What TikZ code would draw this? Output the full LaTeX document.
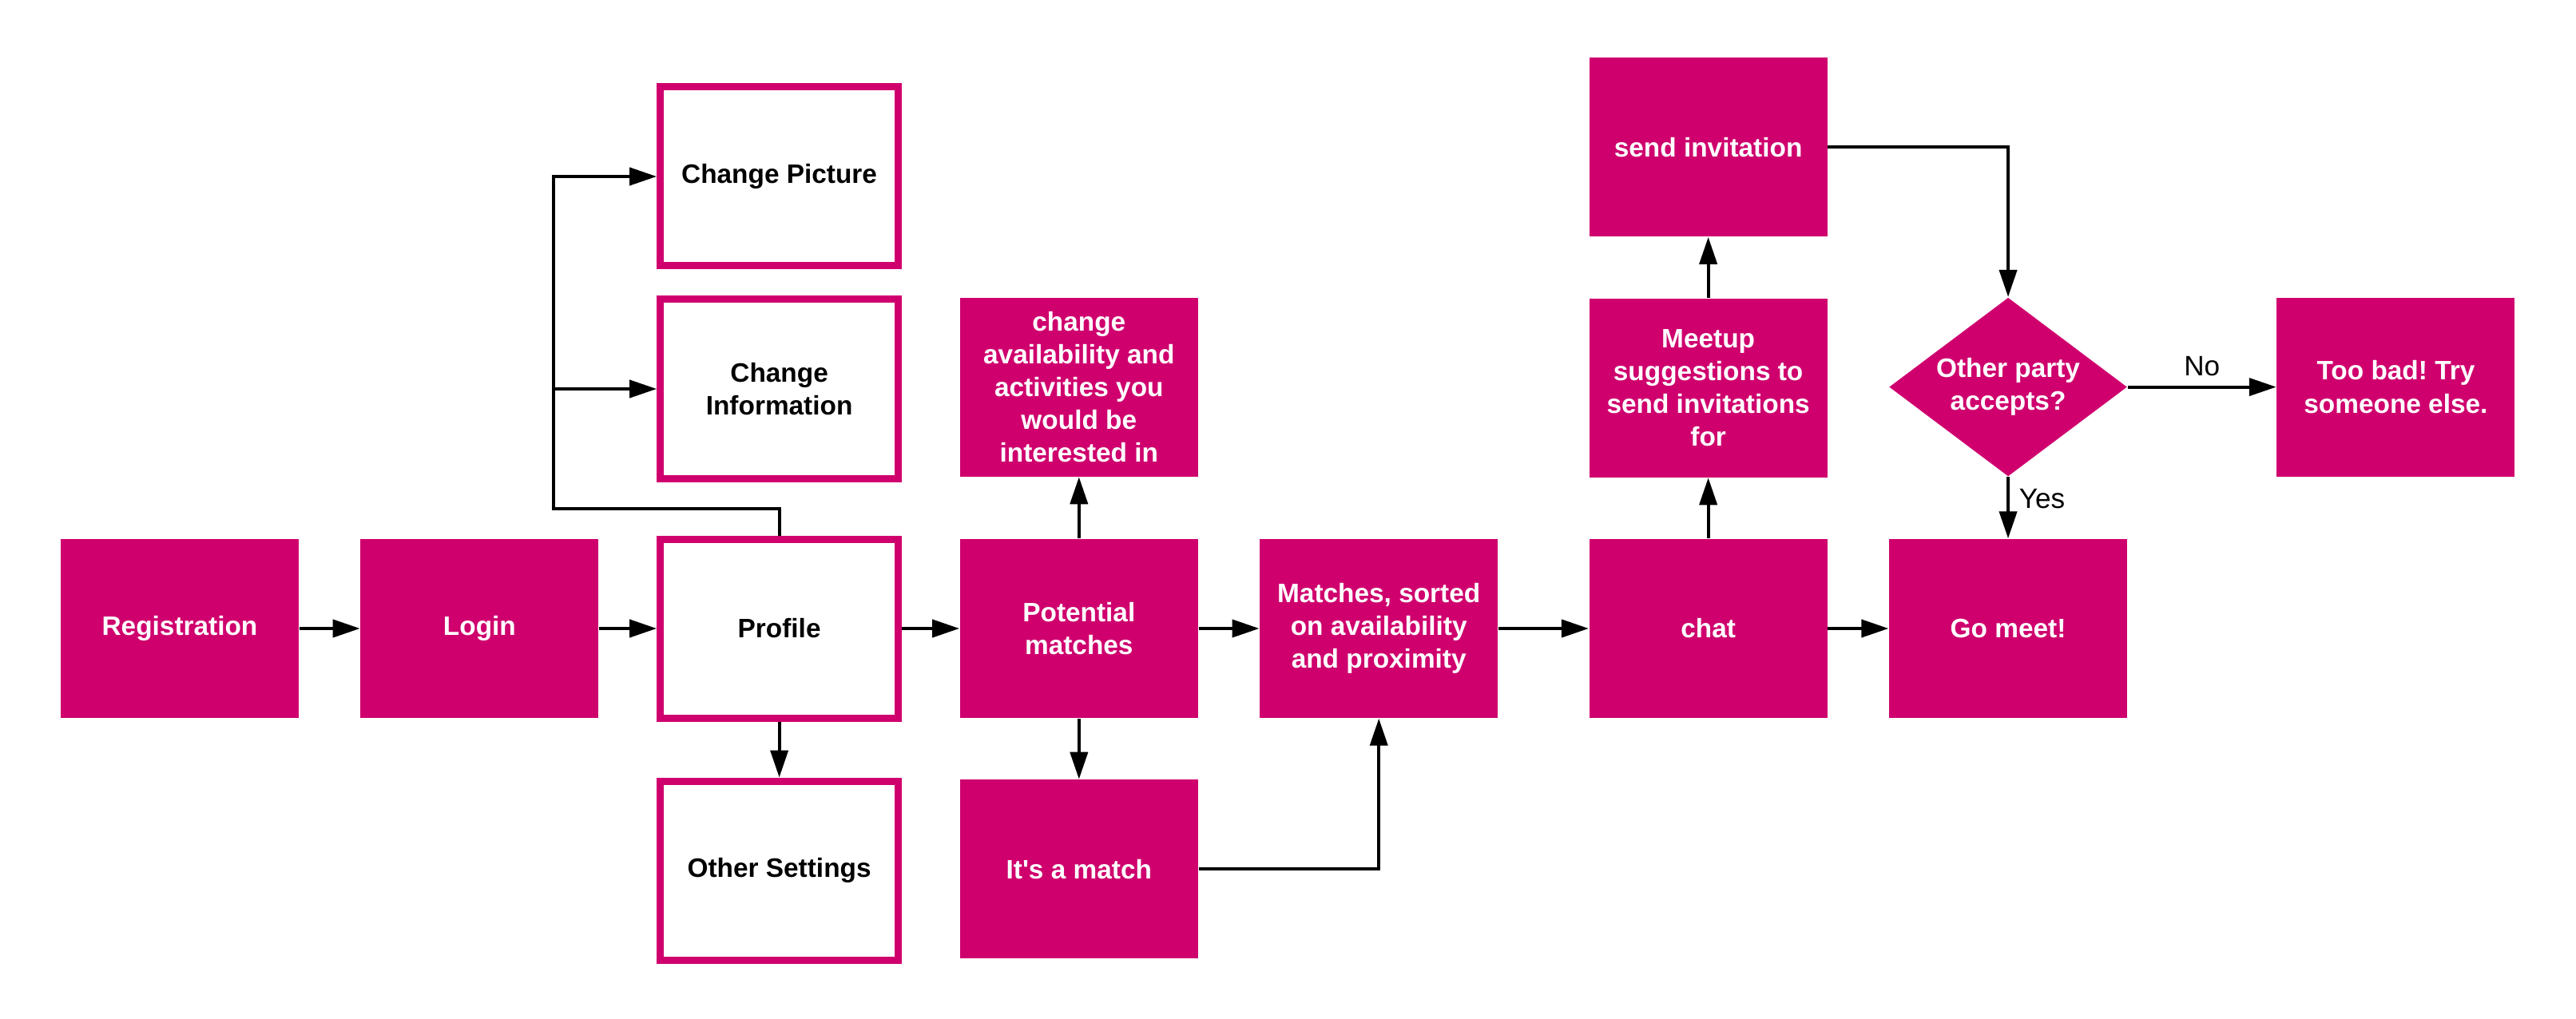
\documentclass[tikz,border=0pt]{standalone}
\usepackage{fontspec}
\setmainfont{Liberation Sans}[Ligatures=TeXOff]
\frenchspacing
\usetikzlibrary{positioning,shapes.geometric,arrows.meta}
\definecolor{berry}{RGB}{207,0,110}
\tikzset{
  boxtext/.style={align=center,font=\bfseries\fontsize{9.5}{11.7}\selectfont},
  filled/.style={rectangle,fill=berry,text=white,boxtext,minimum width=2.98cm,minimum height=2.24cm,inner sep=0pt},
  outlined/.style={rectangle,draw=berry,line width=0.09cm,text=black,boxtext,minimum width=2.98cm,minimum height=2.24cm,inner sep=0pt},
  decision/.style={diamond,fill=berry,text=white,boxtext,minimum width=2.98cm,minimum height=2.24cm,aspect=1.33,inner sep=0pt},
  link/.style={line width=0.04cm,-{Triangle[length=3.4mm,width=2.2mm]}}
}
\begin{document}
\begin{tikzpicture}
        \useasboundingbox (0,0) rectangle (32.25,12.75);
        \node(registration)[filled] at (2.25,4.88) {Registration};
        \node(login)[right=0.76cm of registration,filled]{Login};
        \node(profile)[right=0.72cm of login,outlined]{Profile};
        \node(chginfo)[above=0.67cm of profile,outlined]{Change\\Information};
        \node(chgpic)[above=0.33cm of chginfo,outlined]{Change Picture};
        \node(othersettings)[below=0.70cm of profile,outlined]{Other Settings};
        \node(potential)[right=0.72cm of profile,filled]{Potential\\matches};
        \node(availability)[above=0.77cm of potential,filled]{change\\availability and\\activities you\\would be\\interested in};
        \node(itsamatch)[below=0.76cm of potential,filled]{It's a match};
        \node(sorted)[right=0.76cm of potential,filled]{Matches, sorted\\on availability\\and proximity};
        \node(chat)[right=1.13cm of sorted,filled]{chat};
        \node(meetup)[above=0.76cm of chat,filled]{Meetup\\suggestions to\\send invitations\\for};
        \node(invite)[above=0.76cm of meetup,filled]{send invitation};
        \node(gomeet)[right=0.76cm of chat,filled]{Go meet!};
        \node(accepts)[above=0.77cm of gomeet,decision]{Other party\\accepts?};
        \node(toobad)[right=1.86cm of accepts,filled]{Too bad! Try\\someone else.};

        \draw[link] (registration) -- (login);
        \draw[link] (login) -- (profile);
        \draw[link] (profile) -- (potential);
        \draw[link] (potential) -- (sorted);
        \draw[link] (sorted) -- (chat);
        \draw[link] (chat) -- (gomeet);
        \draw[link] (profile.north) -- ++(0,0.34) -| ([xshift=-1.29cm]chgpic.west) -- (chgpic.west);
        \draw[link] ([xshift=-1.29cm]chginfo.west) -- (chginfo.west);
        \draw[link] (profile) -- (othersettings);
        \draw[link] (potential) -- (availability);
        \draw[link] (potential) -- (itsamatch);
        \draw[link] (itsamatch.east) -| (sorted.south);
        \draw[link] (chat) -- (meetup);
        \draw[link] (meetup) -- (invite);
        \draw[link] (invite.east) -| (accepts.north);
        \draw[link] (accepts.east) -- node[above]{No} (toobad.west);
        \draw[link] (accepts.south) -- node[right,pos=0.35]{Yes} (gomeet.north);
    \end{tikzpicture}
\end{document}
